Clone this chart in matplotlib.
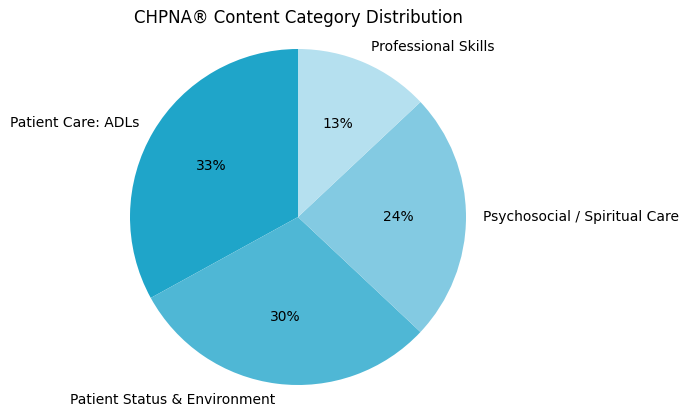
import matplotlib.pyplot as plt

labels = ['Patient Care: ADLs', 'Patient Status & Environment',
          'Psychosocial / Spiritual Care', 'Professional Skills']
shares = [33, 30, 24, 13]
colors = ['#1fa5c9', '#4fb7d5', '#83cae2', '#b5e0ef']

W, H = 689, 417
cx, cy, r = 298, 217, 168

fig = plt.figure(figsize=(W / 100, H / 100), dpi=100)
ax = fig.add_axes([0, 0, 1, 1])
ax.pie(shares, labels=labels, colors=colors, autopct='%1.0f%%',
       startangle=90, textprops={'fontsize': 10})
ax.set_xlim(-cx / r, (W - cx) / r)
ax.set_ylim(-(H - cy) / r, cy / r)
ax.set_aspect('auto')
ax.axis('off')

fig.text(cx / W, 1 - 18 / H, 'CHPNA® Content Category Distribution',
         ha='center', va='center', fontsize=12)

fig.savefig('out.png', dpi=100)
